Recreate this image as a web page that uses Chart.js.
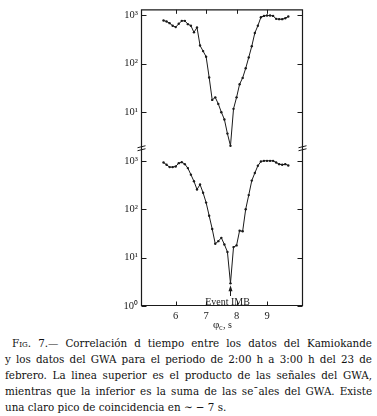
<!DOCTYPE html>
<html>
<head>
<meta charset="utf-8">
<script src="https://cdn.jsdelivr.net/npm/chart.js@4.4.1/dist/chart.umd.min.js"></script>
<style>
body { margin: 0; background: #fff; width: 377px; height: 416px; overflow: hidden; position: relative; }
#wrap { position: absolute; left: 0; top: 0; width: 377px; height: 335px; }
#caption { position: absolute; left: 5px; top: 335px; width: 367px; font: 11.5px 'DejaVu Serif Condensed', 'DejaVu Serif', serif; line-height: 16px; color: #111; }
#caption div { text-align: justify; text-align-last: justify; white-space: nowrap; }
#caption div.first { padding-left: 7px; }
#caption div.last { text-align-last: left; }
.sc { font-variant: small-caps; }
</style>
</head>
<body>
<div id="wrap"><canvas id="grafico"></canvas></div>
<div id="caption">
  <div class="first"><span class="sc">Fig</span>. 7.— Correlación d tiempo entre los datos del Kamiokande</div>
  <div>y los datos del GWA para el periodo de 2:00 h a 3:00 h del 23 de</div>
  <div>febrero. La linea superior es el producto de las señales del GWA,</div>
  <div>mientras que la inferior es la suma de las se¯ales del GWA. Existe</div>
  <div class="last">una claro pico de coincidencia en ∼ − 7 s.</div>
</div>
<script>
// desplazamiento temporal (s)
var phi = [5.6, 5.7, 5.8, 5.9, 6.0, 6.1, 6.2, 6.3, 6.4, 6.5, 6.6, 6.7, 6.8, 6.9,
           7.0, 7.1, 7.2, 7.3, 7.4, 7.5, 7.6, 7.7, 7.8, 7.9, 8.0, 8.1, 8.2, 8.3,
           8.4, 8.5, 8.6, 8.7, 8.8, 8.9, 9.0, 9.1, 9.2, 9.3, 9.4, 9.5, 9.6, 9.7]

// linea superior: producto de las senales
var producto = [778, 743, 687, 606, 569, 665, 766, 766, 655, 606, 443, 560, 237, 182,
                139, 51.8, 17.9, 20.2, 14.8, 10.0, 7.08, 3.61, 2.02, 11.7, 20.2, 37.8, 51, 80.4,
                135, 230, 430, 606, 910, 969, 985, 985, 969, 841, 829, 829, 868, 939]

// linea inferior: suma de las senales
var suma = [924, 828, 743, 743, 766, 896, 939, 855, 708, 518, 378, 256, 324, 219,
            137, 73.1, 39.1, 19.3, 21.9, 25.6, 18.7, 13.1, 2.94, 16.5, 17.9, 36.1, 35.0, 100,
            196, 391, 560, 791, 969, 1000, 1000, 1000, 1000, 924, 855, 828, 855, 803]

var ticksX = [6, 7, 8, 9]
var decadas = [1, 10, 100, 1000]
var etiquetasDecada = {1: '10⁰', 10: '10¹', 100: '10²', 1000: '10³'}
var eventoIMB = 7.8

var fuente = "'Liberation Serif', serif"
var tinta = '#1a1a1a'

function puntos(ys) {
    var out = new Array()
    for (i = 0; i < phi.length; i++) {
        out.push({x: phi[i], y: ys[i]})
    }
    return out
}

function ponerDecadas(scale) {
    scale.ticks = decadas.filter(function (v) { return v >= scale.min && v <= scale.max })
                         .map(function (v) { return {value: v} })
}

function ejeY(peso, orden, min, max) {
    return {
        type: 'logarithmic',
        position: 'left',
        stack: 'panel',
        stackWeight: peso,
        weight: orden,
        min: min,
        max: max,
        afterBuildTicks: ponerDecadas,
        afterFit: function (scale) { scale.width = 141 },
        grid: {display: false, drawTicks: false},
        border: {display: false},
        ticks: {
            color: tinta,
            padding: 3,
            font: {family: fuente, size: 10.5},
            callback: function (v) { return etiquetasDecada[v] || '' }
        }
    }
}

var marco = {
    id: 'marco',
    afterDraw: function (chart) {
        var ctx = chart.ctx
        var a = chart.chartArea
        var sx = chart.scales.x
        var yT = chart.scales.yTop
        var yB = chart.scales.yBot
        var L = a.left + 0.5, R = a.right + 0.5, T = a.top + 0.5, B = a.bottom - 0.5

        ctx.save()
        ctx.strokeStyle = tinta
        ctx.lineWidth = 1.2
        ctx.beginPath()
        ctx.moveTo(L, T); ctx.lineTo(R, T); ctx.lineTo(R, B); ctx.lineTo(L, B); ctx.closePath()
        ctx.stroke()

        // marcas hacia dentro
        ctx.lineWidth = 1
        ctx.beginPath()
        ticksX.forEach(function (v) {
            var p = Math.round(sx.getPixelForValue(v)) + 0.5
            ctx.moveTo(p, B); ctx.lineTo(p, B - 4)
            ctx.moveTo(p, T); ctx.lineTo(p, T + 4)
        })
        ;[yT, yB].forEach(function (s) {
            decadas.forEach(function (v) {
                if (v < s.min || v > s.max) return
                var p = Math.round(s.getPixelForValue(v)) + 0.5
                ctx.moveTo(L, p); ctx.lineTo(L + 5, p)
                ctx.moveTo(R, p); ctx.lineTo(R - 5, p)
            })
        })
        ctx.stroke()

        // corte entre paneles
        var c = yT.bottom
        ctx.beginPath()
        ;[L, R].forEach(function (x0) {
            ctx.moveTo(x0 - 4, c - 1); ctx.lineTo(x0 + 4, c - 3)
            ctx.moveTo(x0 - 4, c + 2); ctx.lineTo(x0 + 4, c)
        })
        ctx.stroke()

        // Event IMB
        var px = Math.round(sx.getPixelForValue(eventoIMB)) + 0.5
        var k = phi.indexOf(eventoIMB)
        var tip = yB.getPixelForValue(suma[k]) + 2
        ctx.fillStyle = tinta
        ctx.font = '10px ' + fuente
        ctx.textAlign = 'center'
        ctx.textBaseline = 'alphabetic'
        ctx.fillText('Event IMB', px - 3, a.bottom - 1)
        ctx.beginPath()
        ctx.moveTo(px, a.bottom - 10); ctx.lineTo(px, tip + 4)
        ctx.stroke()
        ctx.beginPath()
        ctx.moveTo(px, tip); ctx.lineTo(px - 2, tip + 6); ctx.lineTo(px + 2, tip + 6); ctx.closePath()
        ctx.fill()

        // titulo del eje x
        ctx.textAlign = 'left'
        ctx.font = '11px ' + fuente
        ctx.fillText('φ', 213, 328)
        ctx.font = '8px ' + fuente
        ctx.fillText('c', 219, 330)
        ctx.font = '10px ' + fuente
        ctx.fillText(', s', 223, 328)
        ctx.restore()
    }
}

var estiloLinea = {
    borderColor: tinta,
    borderWidth: 1,
    backgroundColor: tinta,
    pointRadius: 1.2,
    pointBorderWidth: 0,
    fill: false,
    tension: 0
}

var canvas = document.querySelector('#grafico')

var chart = new Chart(canvas, {
    type: 'line',
    data: {
        datasets: [
            Object.assign({label: 'producto', data: puntos(producto), yAxisID: 'yTop'}, estiloLinea),
            Object.assign({label: 'suma', data: puntos(suma), yAxisID: 'yBot'}, estiloLinea)
        ]
    },
    options: {
        responsive: true,
        maintainAspectRatio: false,
        animation: false,
        layout: {padding: {left: 0, right: 75, top: 6, bottom: 0}},
        plugins: {legend: {display: false}, tooltip: {enabled: false}},
        scales: {
            x: {
                type: 'linear',
                position: 'bottom',
                min: 4.86,
                max: 10.15,
                afterBuildTicks: function (scale) {
                    scale.ticks = ticksX.map(function (v) { return {value: v} })
                },
                afterFit: function (scale) { scale.height = 29 },
                grid: {display: false, drawTicks: false},
                border: {display: false},
                ticks: {color: tinta, padding: 4, font: {family: fuente, size: 10.5}}
            },
            yTop: ejeY(141, 1, 1.76, 1325),
            yBot: ejeY(159, 0, 1, 1778)
        }
    },
    plugins: [marco]
});
</script>
</body>
</html>
